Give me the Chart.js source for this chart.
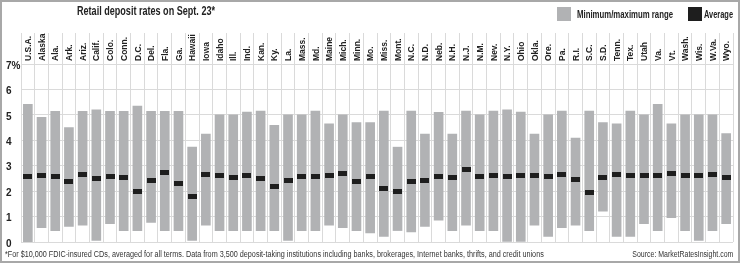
<!DOCTYPE html>
<html>
<head>
<meta charset="utf-8">
<script src="https://cdn.jsdelivr.net/npm/chart.js@4.4.1/dist/chart.umd.min.js"></script>
<style>
  html, body { margin: 0; padding: 0; background: #fff; }
  #wrap {
    position: relative; width: 740px; height: 263px; overflow: hidden;
    font-family: "Liberation Sans", Arial, sans-serif;
    color: #222;
  }
  #grafico { position: absolute; left: 0; top: 0; }
  #moldura {
    position: absolute; left: 0; top: 0; width: 740px; height: 263px;
    box-sizing: border-box; border: 2px solid #a8a8a8; pointer-events: none;
  }
  .titulo { position: absolute; left: 77px; top: 4px; font-weight: bold; font-size: 12.5px; white-space: nowrap; transform-origin: left center; }
  .leg-caixa { position: absolute; top: 7px; width: 14px; height: 14px; }
  .leg-texto { position: absolute; top: 8px; font-weight: bold; font-size: 10px; line-height: 13px; white-space: nowrap; transform-origin: left center; }
  .rodape { position: absolute; top: 249px; font-size: 8.5px; line-height: 10px; color: #333; white-space: nowrap; }
</style>
</head>
<body>
<div id="wrap">
  <canvas id="grafico" width="740" height="263"></canvas>
  <div class="titulo" data-w="138">Retail deposit rates on Sept. 23*</div>
  <div class="leg-caixa" style="left:557px; background:#b1b2b4;"></div>
  <div class="leg-texto" style="left:577px;" data-w="96">Minimum/maximum range</div>
  <div class="leg-caixa" style="left:688px; background:#1e1e1e;"></div>
  <div class="leg-texto" style="left:704px;" data-w="29">Average</div>
  <div class="rodape" style="left:5px; transform-origin: left center;" data-w="539">*For $10,000 FDIC-insured CDs, averaged for all terms. Data from 3,500 deposit-taking institutions including banks, brokerages, Internet banks, thrifts, and credit unions</div>
  <div class="rodape" style="right:7px; transform-origin: right center;" data-w="101">Source: MarketRatesInsight.com</div>
  <div id="moldura"></div>
</div>
<script>
// ─────────── DADOS ───────────

const estados = [
  'U.S.A.', 'Alaska', 'Ala.', 'Ark.', 'Ariz.', 'Calif.', 'Colo.', 'Conn.', 'D.C.', 'Del.',
  'Fla.', 'Ga.', 'Hawaii', 'Iowa', 'Idaho', 'Ill.', 'Ind.', 'Kan.', 'Ky.', 'La.',
  'Mass.', 'Md.', 'Maine', 'Mich.', 'Minn.', 'Mo.', 'Miss.', 'Mont.', 'N.C.', 'N.D.',
  'Neb.', 'N.H.', 'N.J.', 'N.M.', 'Nev.', 'N.Y.', 'Ohio', 'Okla.', 'Ore.', 'Pa.',
  'R.I.', 'S.C.', 'S.D.', 'Tenn.', 'Tex.', 'Utah', 'Va.', 'Vt.', 'Wash.', 'Wis.',
  'W.Va.', 'Wyo.'
];

const maximos = [
  5.41, 4.90, 5.14, 4.50, 5.14, 5.20, 5.14, 5.14, 5.35, 5.14,
  5.14, 5.14, 3.73, 4.24, 5.00, 5.00, 5.11, 5.15, 4.59, 5.00,
  5.00, 5.15, 4.65, 5.00, 4.70, 4.70, 5.15, 3.73, 5.15, 4.24,
  5.10, 4.24, 5.15, 5.00, 5.15, 5.20, 5.11, 4.24, 5.00, 5.15,
  4.09, 5.15, 4.70, 4.65, 5.15, 5.00, 5.41, 4.65, 5.00, 5.00,
  5.00, 4.26
];

const minimos = [
  0.01, 0.56, 0.45, 0.61, 0.66, 0.06, 0.72, 0.45, 0.45, 0.77,
  0.45, 0.45, 0.06, 0.66, 0.45, 0.45, 0.45, 0.45, 0.45, 0.06,
  0.45, 0.45, 0.66, 0.56, 0.45, 0.36, 0.22, 0.45, 0.40, 0.61,
  0.86, 0.45, 0.66, 0.45, 0.45, 0.02, 0.02, 0.66, 0.22, 0.56,
  0.66, 0.45, 1.21, 0.22, 0.22, 0.72, 0.45, 0.96, 0.45, 0.06,
  0.45, 0.72
];

const medias = [
  2.56, 2.61, 2.58, 2.36, 2.66, 2.50, 2.56, 2.53, 1.98, 2.43,
  2.74, 2.31, 1.79, 2.66, 2.61, 2.52, 2.61, 2.50, 2.20, 2.41,
  2.56, 2.59, 2.61, 2.71, 2.39, 2.59, 2.10, 1.99, 2.36, 2.43,
  2.57, 2.52, 2.86, 2.57, 2.61, 2.56, 2.61, 2.63, 2.56, 2.66,
  2.45, 1.96, 2.54, 2.67, 2.63, 2.62, 2.62, 2.69, 2.63, 2.61,
  2.67, 2.52
];

const ticksY = [0, 1, 2, 3, 4, 5, 6, 7];

// ─────────── ESTILO ───────────

const FONTE = '"Liberation Sans", Arial, sans-serif';
const COR_GRADE = '#dadada';

// textos em html: comprime na horizontal pra imitar a fonte condensada
document.querySelectorAll('[data-w]').forEach(el => {
  const w = el.getBoundingClientRect().width;
  el.style.transform = `scaleX(${(+el.dataset.w / w).toFixed(3)})`;
});

// marcador da média: retângulo preto 9x5
const marca = document.createElement('canvas');
marca.width = 9;
marca.height = 5;
const mctx = marca.getContext('2d');
mctx.fillStyle = '#1e1e1e';
mctx.fillRect(0, 0, 9, 5);

// ─────────── CHART ───────────

new Chart(document.getElementById('grafico'), {
  type: 'bar',
  data: {
    labels: estados,
    datasets: [
      {
        type: 'line',
        label: 'Average',
        data: medias,
        showLine: false,
        pointStyle: marca,
        pointRadius: 5,
        order: 0,
      },
      {
        type: 'bar',
        label: 'Minimum/maximum range',
        data: minimos.map((m, i) => [m, maximos[i]]),
        backgroundColor: '#b1b2b4',
        barThickness: 9,
        order: 1,
      },
    ],
  },
  options: {
    responsive: false,
    animation: false,
    layout: { padding: { left: 6, right: 7, top: 0, bottom: 21 } },
    plugins: {
      legend: { display: false },
      tooltip: { enabled: false },
    },
    scales: {
      x: {
        position: 'top',
        grid: { color: COR_GRADE, tickColor: COR_GRADE, tickLength: 31, offset: true },
        border: { display: false },
        ticks: {
          autoSkip: false,
          minRotation: 90,
          maxRotation: 90,
          padding: -28,
          labelOffset: 11,   // rótulo girado fica deslocado pra esquerda
          color: '#222',
          font: { family: FONTE, size: 8.5, weight: 'bold' },
        },
        afterFit: (s) => { s.height = 64; },
      },
      y: {
        min: 0,
        max: 7,
        afterBuildTicks: (s) => { s.ticks = ticksY.map(v => ({ value: v })); },
        grid: { color: COR_GRADE, drawTicks: false },
        border: { display: false },
        ticks: {
          crossAlign: 'far',
          labelOffset: 2,
          color: '#222',
          font: { family: FONTE, size: 10, weight: 'bold' },
          callback: v => v === 7 ? '7%' : v,
        },
        afterFit: (s) => { s.width = 15; },
      },
    },
  },
});
</script>
</body>
</html>
